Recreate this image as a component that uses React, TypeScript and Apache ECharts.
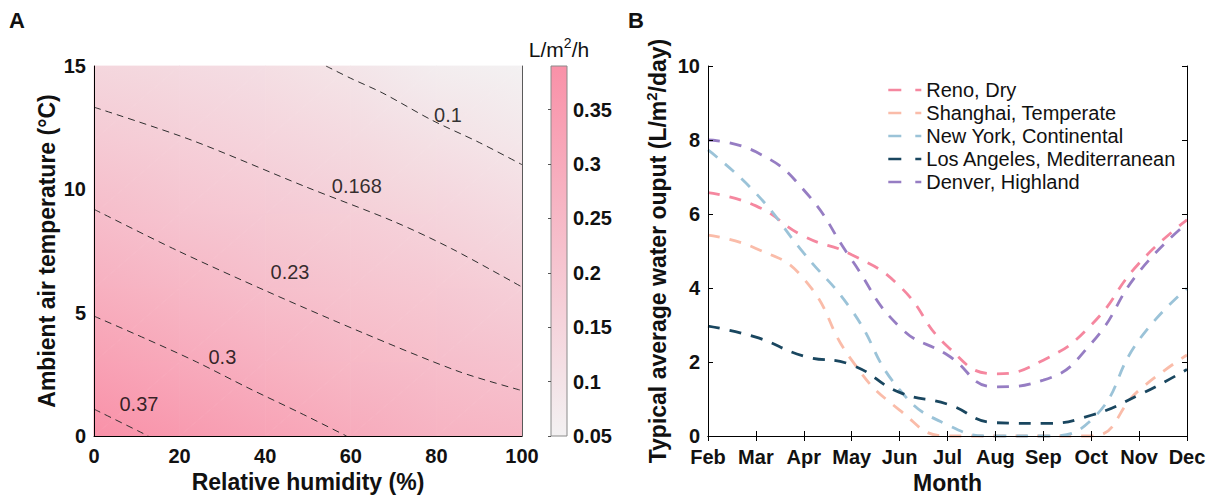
import React, { useEffect, useRef } from "react";
import * as echarts from "echarts";

const FONT = '"Liberation Sans", Arial, Helvetica, sans-serif';
const INK = "#111111";

// ---------- Panel A: hourly water output over humidity and temperature ----------
const rhNodes = [0, 20, 40, 60, 80, 100];
const tempNodes = [0, 3, 6, 9, 12, 15];
// rows follow tempNodes, columns follow rhNodes (L/m²/h)
const outputGrid = [
  [0.389, 0.359, 0.327, 0.298, 0.27, 0.258],
  [0.334, 0.305, 0.277, 0.25, 0.23, 0.213],
  [0.281, 0.255, 0.229, 0.21, 0.192, 0.169],
  [0.233, 0.208, 0.19, 0.172, 0.151, 0.127],
  [0.188, 0.17, 0.152, 0.133, 0.108, 0.086],
  [0.144, 0.131, 0.116, 0.094, 0.064, 0.05],
];
const colorbarRange = [0.05, 0.39];
const lowColor = [243, 241, 242];
const highColor = [249, 145, 168];

// iso-lines of the output, as [relative humidity, temperature] points
const contourLevels = ["0.1", "0.168", "0.23", "0.3", "0.37"];
const contour010 = [[54.2, 15], [60, 14.5], [67.5, 13.9], [79, 12.8], [90, 11.9], [100, 11.0]];
const contour0168 = [[0, 13.33], [22.7, 12.0], [49.5, 10.1], [70, 8.7], [83.5, 7.6], [100, 6.04]];
const contour023 = [[0, 9.19], [19.2, 7.54], [40.6, 5.85], [63, 4.17], [85.3, 2.61], [100, 1.84]];
const contour030 = [[0, 4.86], [12, 3.95], [24, 3.0], [36, 1.95], [48, 0.95], [59, 0]];
const contour037 = [[0, 1.09], [12.7, 0]];
const contourLabelAnchors = [[82.7, 13.0], [61.4, 10.13], [45.8, 6.65], [30, 3.2], [10.5, 1.28]];

// ---------- Panel B: monthly output per city ----------
const months = ["Feb", "Mar", "Apr", "May", "Jun", "Jul", "Aug", "Sep", "Oct", "Nov", "Dec"];
const cityNames = [
  "Reno, Dry",
  "Shanghai, Temperate",
  "New York, Continental",
  "Los Angeles, Mediterranean",
  "Denver, Highland",
];
const reno = [6.58, 6.22, 5.4, 4.9, 4.05, 2.42, 1.68, 2.05, 3.0, 4.67, 5.84];
const shanghai = [5.43, 5.07, 4.25, 2.05, 0.7, 0, 0, 0, 0, 1.24, 2.19];
const newYork = [7.73, 6.56, 4.94, 3.4, 1.25, 0.3, 0, 0, 0.43, 2.6, 3.99];
const losAngeles = [2.97, 2.67, 2.16, 1.92, 1.18, 0.86, 0.36, 0.34, 0.56, 1.11, 1.8];
const denver = [8.0, 7.68, 6.65, 4.76, 2.95, 2.19, 1.33, 1.51, 2.5, 4.44, 5.75];
const cityColors = ["#F5879F", "#FABCA9", "#9BC3D8", "#19465F", "#967DC3"];

function colorOf(v: number): string {
  const t = Math.max(0, Math.min(1, (v - colorbarRange[0]) / (colorbarRange[1] - colorbarRange[0])));
  const c = lowColor.map((lo, k) => Math.round(lo + (highColor[k] - lo) * t));
  return `rgb(${c[0]},${c[1]},${c[2]})`;
}

// A triangle filled with a gradient that follows the plane through its three values.
function shadedTriangle(pts: number[][], vals: number[]) {
  const [p0, p1, p2] = pts;
  const d1x = p1[0] - p0[0], d1y = p1[1] - p0[1];
  const d2x = p2[0] - p0[0], d2y = p2[1] - p0[1];
  const det = d1x * d2y - d1y * d2x;
  const dv1 = vals[1] - vals[0], dv2 = vals[2] - vals[0];
  const gx = (dv1 * d2y - dv2 * d1y) / det;
  const gy = (dv2 * d1x - dv1 * d2x) / det;
  const g2 = gx * gx + gy * gy;
  let fill: any;
  if (!isFinite(g2) || g2 < 1e-14) {
    fill = colorOf(vals[0]);
  } else {
    let kMin = 0, kMax = 0;
    vals.forEach((vv, k) => {
      if (vv < vals[kMin]) kMin = k;
      if (vv > vals[kMax]) kMax = k;
    });
    const span = vals[kMax] - vals[kMin];
    const s = pts[kMin];
    const e = [s[0] + (gx * span) / g2, s[1] + (gy * span) / g2];
    fill = new echarts.graphic.LinearGradient(
      s[0], s[1], e[0], e[1],
      [
        { offset: 0, color: colorOf(vals[kMin]) },
        { offset: 1, color: colorOf(vals[kMax]) },
      ],
      true
    );
  }
  return {
    type: "polygon",
    shape: { points: pts },
    style: { fill, stroke: fill, lineWidth: 0.8 },
  };
}

const tickLabel = { fontSize: 20, fontWeight: "bold", color: INK, fontFamily: FONT };
const axisTitle = { fontSize: 23, fontWeight: "bold", color: INK, fontFamily: FONT };
const blackLine = { show: true, lineStyle: { color: "#000", width: 1 } };

export default function App() {
  const ref = useRef<HTMLDivElement>(null);

  useEffect(() => {
    if (!ref.current) return;
    const chart = echarts.init(ref.current, undefined, { renderer: "svg" });

    const cells: number[][] = [];
    for (let i = 0; i < rhNodes.length - 1; i++) {
      for (let j = 0; j < tempNodes.length - 1; j++) cells.push([i, j]);
    }

    const contours = [contour010, contour0168, contour023, contour030, contour037];
    const cityData = [reno, shanghai, newYork, losAngeles, denver];

    const option: any = {
      animation: false,
      backgroundColor: "#ffffff",
      textStyle: { fontFamily: FONT },
      grid: [
        { left: 94, top: 66, width: 428, height: 370 },
        { left: 551, top: 66, width: 16, height: 370 },
        { left: 708, top: 66, width: 479, height: 370 },
      ],
      xAxis: [
        {
          type: "value", gridIndex: 0, min: 0, max: 100, interval: 20, z: 10,
          axisLine: blackLine, axisTick: { show: false }, splitLine: { show: false },
          axisLabel: { ...tickLabel, margin: 11, lineHeight: 17 },
          name: "Relative humidity (%)", nameLocation: "middle", nameGap: 33, nameTextStyle: axisTitle,
        },
        { type: "value", gridIndex: 1, min: 0, max: 1, show: false },
        {
          type: "category", gridIndex: 2, data: months, boundaryGap: false, z: 10,
          axisLine: blackLine,
          axisTick: { show: true, inside: true, length: 5, interval: 0, lineStyle: { color: "#000" } },
          axisLabel: { ...tickLabel, margin: 13, interval: 0, lineHeight: 16 },
          splitLine: { show: false },
          name: "Month", nameLocation: "middle", nameGap: 33, nameTextStyle: axisTitle,
        },
        {
          type: "category", gridIndex: 2, data: months, boundaryGap: false, position: "top", z: 10,
          axisLine: blackLine,
          axisTick: { show: true, inside: true, length: 5, interval: 0, lineStyle: { color: "#000" } },
          axisLabel: { show: false }, splitLine: { show: false },
        },
      ],
      yAxis: [
        {
          type: "value", gridIndex: 0, min: 0, max: 15, interval: 5, z: 10,
          axisLine: blackLine, axisTick: { show: false }, splitLine: { show: false },
          axisLabel: { ...tickLabel, margin: 8, lineHeight: 16 },
          name: "Ambient air temperature (°C)", nameLocation: "middle", nameGap: 36, nameRotate: 90,
          nameTextStyle: axisTitle,
        },
        {
          type: "value", gridIndex: 0, min: 0, max: 15, position: "right", z: 10,
          axisLine: { show: true, lineStyle: { color: "#5a5a5a", width: 1 } },
          axisTick: { show: false }, axisLabel: { show: false }, splitLine: { show: false },
        },
        {
          type: "value", gridIndex: 1, position: "right", min: colorbarRange[0], max: colorbarRange[1],
          interval: 0.05, z: 10,
          axisLine: { show: false },
          axisTick: { show: true, inside: true, length: 3, lineStyle: { color: "#555" } },
          axisLabel: {
            ...tickLabel, margin: 6, showMaxLabel: false, lineHeight: 17,
            formatter: (v: number) => v.toFixed(2).replace(/0$/, ""),
          },
          splitLine: { show: false },
        },
        {
          type: "value", gridIndex: 2, min: 0, max: 10, interval: 2, z: 10,
          axisLine: blackLine,
          axisTick: { show: true, inside: true, length: 5, lineStyle: { color: "#000" } },
          axisLabel: { ...tickLabel, margin: 8, lineHeight: 16 }, splitLine: { show: false },
          name: "{a|Typical average water ouput (L/m}{s|2}{a|/day)}",
          nameLocation: "middle", nameGap: 36, nameRotate: 90,
          nameTextStyle: {
            ...axisTitle,
            rich: {
              a: { ...axisTitle, lineHeight: 28 },
              s: { fontSize: 15, fontWeight: "bold", color: INK, fontFamily: FONT, lineHeight: 15, verticalAlign: "top" },
            },
          },
        },
        {
          type: "value", gridIndex: 2, min: 0, max: 10, interval: 2, position: "right", z: 10,
          axisLine: blackLine,
          axisTick: { show: true, inside: true, length: 5, lineStyle: { color: "#000" } },
          axisLabel: { show: false }, splitLine: { show: false },
        },
      ],
      legend: {
        data: cityNames,
        orient: "vertical",
        left: 882,
        top: 75,
        itemWidth: 33,
        itemHeight: 12,
        itemGap: 3,
        itemStyle: { opacity: 0 },
        lineStyle: { type: [13, 14], width: 2.6 },
        textStyle: { fontSize: 20, color: INK, fontFamily: FONT, lineHeight: 20 },
      },
      graphic: [
        { type: "text", x: 9, y: 9, style: { text: "A", font: `bold 22px ${FONT}`, fill: INK } },
        { type: "text", x: 628, y: 9, style: { text: "B", font: `bold 22px ${FONT}`, fill: INK } },
        {
          type: "text", x: 559, y: 49,
          style: {
            text: "{a|L/m}{s|2}{a|/h}",
            align: "center", verticalAlign: "middle",
            rich: {
              a: { fontSize: 21, fontFamily: FONT, fill: INK, lineHeight: 26 },
              s: { fontSize: 14, fontFamily: FONT, fill: INK, lineHeight: 14, verticalAlign: "top" },
            },
          },
        },
      ],
      series: [
        {
          type: "custom",
          name: "output map",
          xAxisIndex: 0,
          yAxisIndex: 0,
          silent: true,
          z: 1,
          data: cells,
          renderItem: (_params: any, api: any) => {
            const i = api.value(0);
            const j = api.value(1);
            const p = (a: number, b: number) => api.coord([rhNodes[a], tempNodes[b]]);
            const v = (a: number, b: number) => outputGrid[b][a];
            const bl = p(i, j), br = p(i + 1, j), tr = p(i + 1, j + 1), tl = p(i, j + 1);
            return {
              type: "group",
              children: [
                shadedTriangle([bl, br, tr], [v(i, j), v(i + 1, j), v(i + 1, j + 1)]),
                shadedTriangle([bl, tr, tl], [v(i, j), v(i + 1, j + 1), v(i, j + 1)]),
              ],
            };
          },
        },
        ...contours.map((pts, k) => ({
          type: "line",
          name: `contour ${contourLevels[k]}`,
          xAxisIndex: 0,
          yAxisIndex: 0,
          data: pts,
          smooth: 0.3,
          showSymbol: false,
          symbol: "none",
          silent: true,
          z: 3,
          lineStyle: { color: "#2e2e2e", width: 1, type: [7, 5] },
        })),
        {
          type: "scatter",
          name: "contour labels",
          xAxisIndex: 0,
          yAxisIndex: 0,
          symbolSize: 0,
          silent: true,
          z: 4,
          data: contourLabelAnchors,
          label: {
            show: true,
            position: "inside",
            formatter: (p: any) => contourLevels[p.dataIndex],
            fontSize: 20,
            color: "#000",
            fontFamily: FONT,
          },
        },
        {
          type: "custom",
          name: "colorbar",
          xAxisIndex: 1,
          yAxisIndex: 2,
          silent: true,
          data: [[0, colorbarRange[0]]],
          renderItem: (_params: any, api: any) => {
            const a = api.coord([0, colorbarRange[1]]);
            const b = api.coord([1, colorbarRange[0]]);
            return {
              type: "rect",
              shape: { x: a[0], y: a[1], width: b[0] - a[0], height: b[1] - a[1] },
              style: {
                fill: new echarts.graphic.LinearGradient(0, 0, 0, 1, [
                  { offset: 0, color: colorOf(colorbarRange[1]) },
                  { offset: 1, color: colorOf(colorbarRange[0]) },
                ]),
                stroke: "#8a8a8a",
                lineWidth: 1,
              },
            };
          },
        },
        ...cityNames.map((name, k) => ({
          type: "line",
          name,
          xAxisIndex: 2,
          yAxisIndex: 3,
          data: cityData[k],
          smooth: 0.5,
          showSymbol: false,
          symbol: "none",
          clip: false,
          z: 5,
          color: cityColors[k],
          lineStyle: { color: cityColors[k], width: 2.8, type: [12, 10] },
        })),
      ],
    };

    chart.setOption(option);
    return () => chart.dispose();
  }, []);

  return (
    <div
      ref={ref}
      style={{ position: "fixed", left: 0, top: 0, width: 1212, height: 501, background: "#fff" }}
    />
  );
}
